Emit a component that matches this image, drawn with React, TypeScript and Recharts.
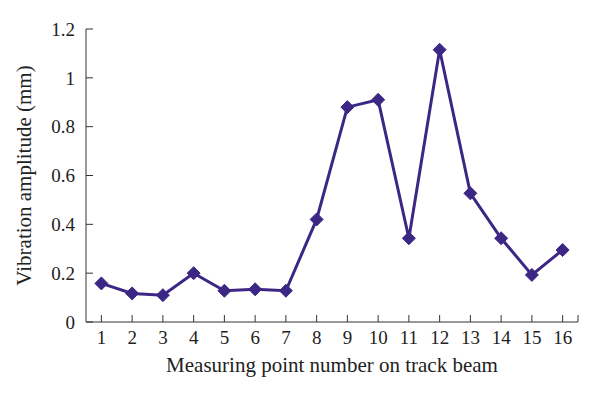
import React from 'react';
import { LineChart, Line, XAxis, YAxis } from 'recharts';

// measuring points and amplitudes (mm)
const points = [1, 2, 3, 4, 5, 6, 7, 8, 9, 10, 11, 12, 13, 14, 15, 16];
const amplitude = [0.158, 0.117, 0.11, 0.2, 0.128, 0.134, 0.128, 0.42, 0.88, 0.91, 0.343, 1.115, 0.527, 0.343, 0.193, 0.295];
const yTicks = [0, 0.2, 0.4, 0.6, 0.8, 1, 1.2];
const xTicks = [...points, 16.5];

const COLOR = '#3d2785';
const FONT = '"Liberation Serif", "DejaVu Serif", serif';

const data = points.map((p, i) => ({ point: p, value: amplitude[i] }));

const Diamond = (props: any) => {
  const { cx, cy } = props;
  if (cx == null || cy == null) return null;
  const r = 6.5;
  return (
    <polygon
      points={`${cx},${cy - r} ${cx + r},${cy} ${cx},${cy + r} ${cx - r},${cy}`}
      fill={COLOR}
      stroke={COLOR}
    />
  );
};

const App: React.FC = () => {
  return (
    <div style={{ position: 'absolute', left: 0, top: 0, background: '#fff' }}>
      <LineChart width={600} height={397} data={data} margin={{ top: 29, right: 22, bottom: 15, left: 0 }}>
        <XAxis
          dataKey="point"
          type="number"
          domain={[0.5, 16.5]}
          ticks={xTicks}
          tickFormatter={(v: number) => (v > 16 ? '' : String(v))}
          interval={0}
          height={60}
          tickSize={-7}
          tickMargin={16}
          stroke="#333"
          tick={{ fill: '#222', fontSize: 19, fontFamily: FONT }}
          label={{
            value: 'Measuring point number on track beam',
            position: 'insideBottom',
            offset: 10,
            style: { fill: '#222', fontSize: 21, fontFamily: FONT },
          }}
        />
        <YAxis
          type="number"
          domain={[0, 1.2]}
          ticks={yTicks}
          interval={0}
          width={86}
          tickSize={-7}
          tickMargin={18}
          stroke="#333"
          tick={{ fill: '#222', fontSize: 19, fontFamily: FONT }}
          label={{
            value: 'Vibration amplitude (mm)',
            angle: -90,
            position: 'insideLeft',
            offset: 24,
            style: { textAnchor: 'middle', fill: '#222', fontSize: 21, fontFamily: FONT },
          }}
        />
        <Line
          dataKey="value"
          stroke={COLOR}
          strokeWidth={3}
          dot={<Diamond />}
          isAnimationActive={false}
        />
      </LineChart>
    </div>
  );
};

export default App;
